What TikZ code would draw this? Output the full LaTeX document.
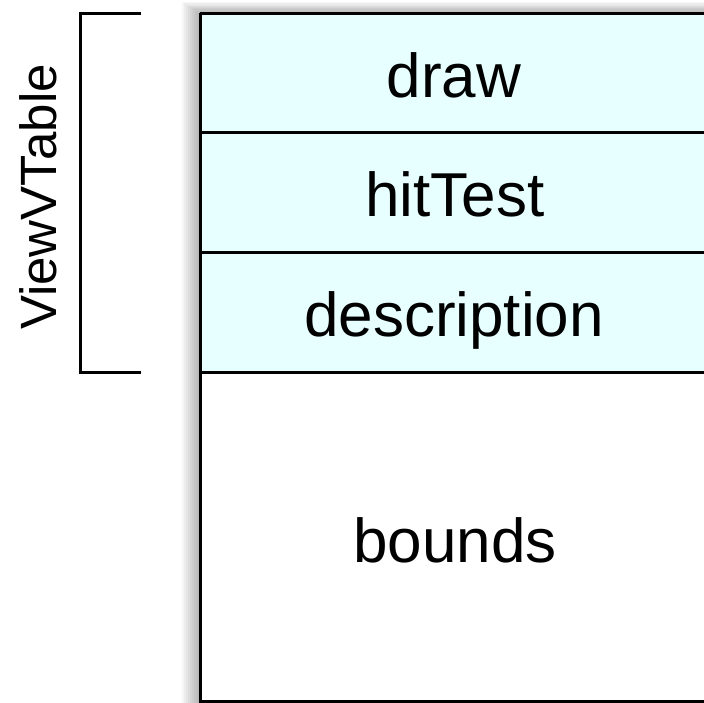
\documentclass[tikz,border=0pt]{standalone}
\usepackage{fontspec}
\setmainfont{Liberation Sans}
\usetikzlibrary{positioning}
\definecolor{rowfill}{RGB}{232,255,255}

\begin{document}
\begin{tikzpicture}[x=1pt,y=-1pt,line width=3pt]
        \tikzset{
          every node/.style={inner sep=0pt},
          field/.style={font=\fontsize{62}{74}\selectfont, anchor=base},
          tag/.style={font=\fontsize{51}{61}\selectfont, rotate=90, anchor=base},
        }
        \useasboundingbox (0,0) rectangle (704,702);
        % soft shadow on the left
        \foreach \i in {0,...,9}
          \fill[black, opacity=0.035] (200-2*\i,13-1.2*\i) rectangle (720,720);
        % table
        \fill[rowfill] (200,13) rectangle (720,372);
        \fill[white] (200,372) rectangle (720,720);
        \coordinate (tl) at (200,13);
        \coordinate (tr) at (720,13);
        \coordinate (bl) at (200,701);
        \coordinate (br) at (720,701);
        \coordinate (l1) at (200,132);
        \coordinate (r1) at (720,132);
        \coordinate (l2) at (200,252);
        \coordinate (r2) at (720,252);
        \coordinate (l3) at (200,372);
        \coordinate (r3) at (720,372);
        \draw (tl) -- (tr) (tl) -- (bl) -- (br);
        \draw (l1) -- (r1) (l2) -- (r2) (l3) -- (r3);
        \node[field] (draw) at (454,97) {draw};
        \node[field] (hit) at (455,216) {hitTest};
        \node[field] (desc) at (454,336) {description};
        \node[field] (bnds) at (455,562) {bounds};
        % bracket
        \coordinate (bt) at (80,13);
        \coordinate (bte) at (141,13);
        \coordinate (bb) at (80,372);
        \coordinate (bbe) at (141,372);
        \draw (bte) -- (bt) -- (bb) -- (bbe);
        \node[tag] (vt) at (56,197) {ViewVTable};
      \end{tikzpicture}
\end{document}
